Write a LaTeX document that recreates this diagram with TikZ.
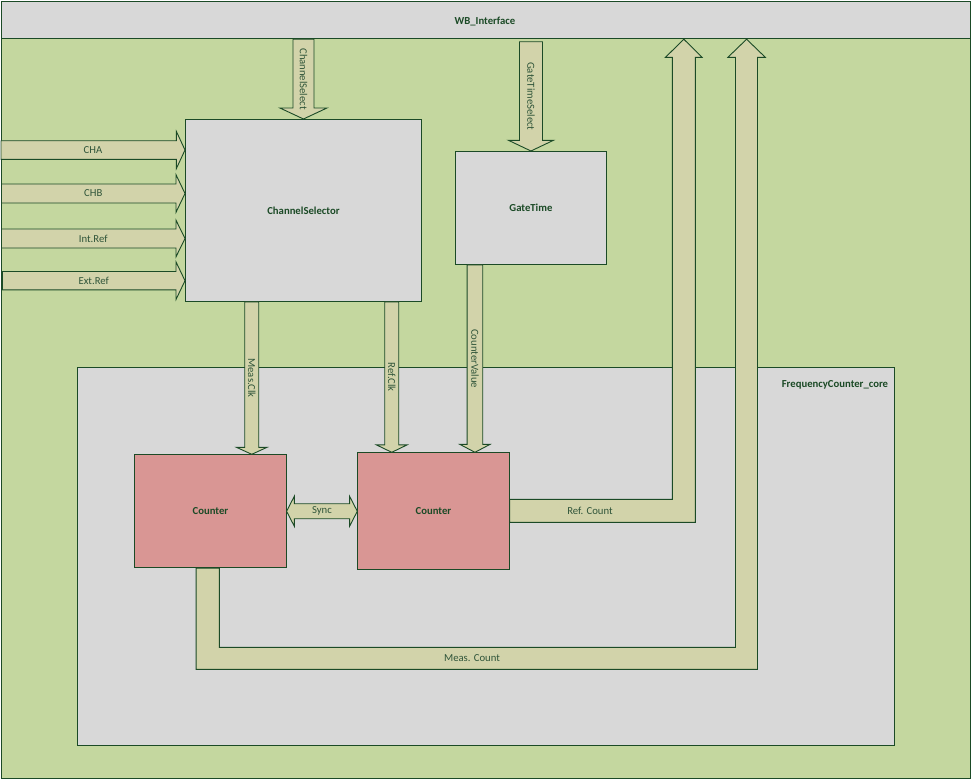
\documentclass[tikz,border=0pt]{standalone}
\usepackage{fontspec}
\setmainfont{Carlito}
\usetikzlibrary{calc}

\definecolor{bggreen}{HTML}{C4D79F}
\definecolor{panelgray}{HTML}{D8D8D8}
\definecolor{busfill}{HTML}{D2D3AA}
\definecolor{counterred}{HTML}{D99694}
\definecolor{edgegreen}{HTML}{1B4A26}
\definecolor{labelgreen}{HTML}{30553A}

% straight bus arrow pointing down: start, tip, shaft half-width, head half-width, head length, label
\newcommand{\busdown}[6]{%
  \filldraw[bus] let \p1=(#1), \p2=(#2) in
    (\x2-#3pt,\y1) -- (\x2+#3pt,\y1) -- (\x2+#3pt,\y2+#5pt) -- (\x2+#4pt,\y2+#5pt)
    -- (\x2,\y2) -- (\x2-#4pt,\y2+#5pt) -- (\x2-#3pt,\y2+#5pt) -- cycle
    (\x2,{0.5*\y1+0.5*\y2}) node[buslabel,rotate=-90]{#6};}

% straight bus arrow pointing right: start, tip, shaft half-width, head half-width, head length, label
\newcommand{\busright}[6]{%
  \filldraw[bus] let \p1=(#1), \p2=(#2) in
    (\x1,\y2+#3pt) -- (\x2-#5pt,\y2+#3pt) -- (\x2-#5pt,\y2+#4pt) -- (\x2,\y2)
    -- (\x2-#5pt,\y2-#4pt) -- (\x2-#5pt,\y2-#3pt) -- (\x1,\y2-#3pt) -- cycle
    ({0.5*\x1+0.5*\x2},\y2) node[buslabel]{#6};}

\begin{document}
\begin{tikzpicture}[x=1pt,y=-1pt,line join=miter,
  edge/.style={draw=edgegreen,line width=0.9pt},
  panel/.style={edge,fill=panelgray,rectangle,anchor=north west,inner sep=0pt,
    font=\fontsize{10.7}{12.8}\selectfont\bfseries,text=edgegreen},
  counter/.style={panel,fill=counterred},
  bus/.style={edge,fill=busfill},
  buslabel/.style={inner sep=0pt,font=\fontsize{10.7}{12.8}\selectfont,text=labelgreen},
  title/.style={inner sep=0pt,font=\fontsize{10.7}{12.8}\selectfont\bfseries,text=edgegreen}]

\useasboundingbox (0,0) rectangle (971,779);

% outer frame and bus interface strip
\node[panel,fill=bggreen,minimum width=969pt,minimum height=777.3pt] (top) at (1,1) {};
\node[panel,minimum width=969pt,minimum height=37.3pt] (wb) at (1,1) {};
\node[title] (wblabel) at (485,22) {WB\_Interface};

% core region
\node[panel,minimum width=817pt,minimum height=378pt] (core) at (77.4,367.3) {};
\node[title,anchor=east] (corelabel) at (888.3,385) {FrequencyCounter\_core};

% functional blocks
\node[panel,minimum width=236pt,minimum height=182pt] (cs) at (185,119) {ChannelSelector};
\node[panel,minimum width=151pt,minimum height=113pt] (gt) at (455,151) {GateTime};
\node[counter,minimum width=151.4pt,minimum height=113pt] (c1) at (134.3,454.3) {Counter};
\node[counter,minimum width=151.4pt,minimum height=117pt] (c2) at (357.3,452.3) {Counter};

% tap points on the blocks
\coordinate (mclk) at ([xshift=41.3pt]c1.north);
\coordinate (rclk) at ([xshift=-41.7pt]c2.north);
\coordinate (cval) at ([xshift=41.5pt]c2.north);

% control buses from the interface
\busdown{cs.north |- wb.south}{cs.north}{10.5}{23.5}{11}{ChannelSelect}
\busdown{gt.north |- 0,41.7}{gt.north}{11.5}{22.5}{10.7}{GateTimeSelect}

% input channels
\busright{1,0}{cs.west |- 0,150}{9.3}{18.7}{8.7}{CHA}
\busright{1.5,0}{cs.west |- 0,193.5}{9.5}{18.8}{9}{CHB}
\busright{1.5,0}{cs.west |- 0,238.5}{9.5}{18.3}{9}{Int.Ref}
\busright{2.5,0}{cs.west |- 0,280.7}{9.2}{18.8}{9}{Ext.Ref}

% clocks and gate value into the counters
\busdown{mclk |- cs.south}{mclk}{7}{15.3}{7}{Meas.Clk}
\busdown{rclk |- cs.south}{rclk}{7}{15.3}{7.4}{Ref.Clk}
\busdown{cval |- gt.south}{cval}{7.8}{15.2}{8}{CounterValue}

% sync link between the counters
\filldraw[bus] let \p1=(c1.east), \p2=(c2.west) in
  (\x1,\y1) -- (\x1+7.7pt,\y1+15pt) -- (\x1+7.7pt,\y1+7.5pt) -- (\x2-7.7pt,\y1+7.5pt)
  -- (\x2-7.7pt,\y1+15pt) -- (\x2,\y1) -- (\x2-7.7pt,\y1-15pt) -- (\x2-7.7pt,\y1-7.5pt)
  -- (\x1+7.7pt,\y1-7.5pt) -- (\x1+7.7pt,\y1-15pt) -- cycle;
\node[buslabel] (synclabel) at ($(c1.east)!0.5!(c2.west)$) {Sync};

% count results back to the interface
\coordinate (rctip) at (683.8,0 |- wb.south);
\coordinate (mctip) at (746.6,0 |- wb.south);

\filldraw[bus] (c2.east |- 0,499.3) -- (672.3,499.3) -- (672.3,57.3) -- (665.5,57.3)
  -- (rctip) -- (702.1,57.3) -- (695.3,57.3) -- (695.3,522.3) -- (c2.east |- 0,522.3) -- cycle;
\node[buslabel] (rclabel) at (590,511) {Ref. Count};

\filldraw[bus] (196.1,0 |- c1.south) -- (196.1,669.3) -- (757.5,669.3) -- (757.5,57.3)
  -- (765.3,57.3) -- (mctip) -- (727.9,57.3) -- (735.5,57.3) -- (735.5,647.3)
  -- (219.4,647.3) -- (219.4,0 |- c1.south) -- cycle;
\node[buslabel] (mclabel) at (472,658) {Meas. Count};

\end{tikzpicture}
\end{document}
